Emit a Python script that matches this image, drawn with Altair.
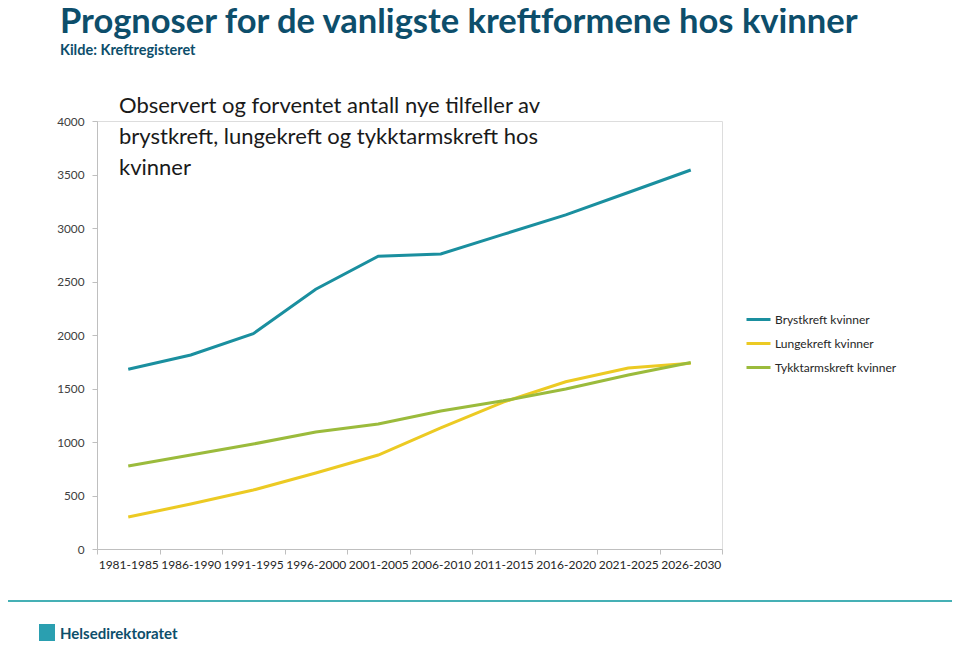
import altair as alt
import pandas as pd

periods = ["1981-1985", "1986-1990", "1991-1995", "1996-2000", "2001-2005",
           "2006-2010", "2011-2015", "2016-2020", "2021-2025", "2026-2030"]
series_names = ["Brystkreft kvinner", "Lungekreft kvinner", "Tykktarmskreft kvinner"]
bryst = [1680, 1813, 2012, 2428, 2736, 2757, 2940, 3122, 3332, 3542]
lunge = [299, 420, 551, 710, 878, 1131, 1372, 1563, 1692, 1736]
tykktarm = [776, 878, 981, 1093, 1168, 1290, 1385, 1495, 1626, 1743]
colors = ["#1a8f9f", "#ecca23", "#9bbb3c"]
y_ticks = [0, 500, 1000, 1500, 2000, 2500, 3000, 3500, 4000]

rows = []
for name, vals in zip(series_names, [bryst, lunge, tykktarm]):
    for p, v in zip(periods, vals):
        rows.append({"Periode": p, "Serie": name, "Antall": v})
df = pd.DataFrame(rows)

FONT = "Lato"
TITLE_COLOR = "#0d4e6b"

lines = alt.Chart(df).mark_line(strokeWidth=3).encode(
    x=alt.X("Periode:N", sort=periods, title=None,
            scale=alt.Scale(paddingInner=0, paddingOuter=0),
            axis=alt.Axis(labelAngle=0, tickBand="extent", tickSize=5,
                          labelPadding=5, labelFontSize=12, labelColor="#262626",
                          domainColor="#bfbfbf", tickColor="#bfbfbf", labelFont=FONT)),
    y=alt.Y("Antall:Q", title=None,
            scale=alt.Scale(domain=[0, 4000], nice=False),
            axis=alt.Axis(values=y_ticks, format="d", grid=False, tickSize=5, labelPadding=8,
                          labelFontSize=11.8, labelColor="#404040", labelFont=FONT,
                          domainColor="#bfbfbf", tickColor="#bfbfbf")),
    color=alt.Color("Serie:N", sort=series_names,
                    scale=alt.Scale(domain=series_names, range=colors),
                    legend=alt.Legend(title=None, orient="none", legendX=648, legendY=185,
                                      symbolType="stroke", symbolSize=576,
                                      symbolStrokeWidth=3, labelFontSize=12,
                                      labelFont=FONT, labelColor="#262626",
                                      labelOffset=3, rowPadding=4)),
)

inner_title = alt.Chart(pd.DataFrame({"t": [0]})).mark_text(
    align="left", baseline="alphabetic", fontSize=22, font=FONT,
    color="#1a1a1a", lineHeight=31,
).encode(
    x=alt.value(22), y=alt.value(-8),
    text=alt.value(["Observert og forventet antall nye tilfeller av",
                    "brystkreft, lungekreft og tykktarmskreft hos",
                    "kvinner"]),
)

footer_line = alt.Chart(pd.DataFrame({"t": [0]})).mark_rule(
    color="#45b0b5", strokeWidth=2
).encode(x=alt.value(-89), x2=alt.value(855), y=alt.value(480))

logo_box = alt.Chart(pd.DataFrame({"t": [0]})).mark_rect(
    color="#2a9fb0"
).encode(x=alt.value(-58), x2=alt.value(-42), y=alt.value(503), y2=alt.value(520))

footer_text = alt.Chart(pd.DataFrame({"t": [0]})).mark_text(
    align="left", baseline="alphabetic", fontSize=15, font=FONT,
    fontWeight="bold", color=TITLE_COLOR,
).encode(x=alt.value(-37), y=alt.value(518), text=alt.value("Helsedirektoratet"))

chart = alt.layer(lines, inner_title, footer_line, logo_box, footer_text).properties(
    width=625, height=428,
    autosize=alt.AutoSizeParams(type="none"),
    padding={"left": 89, "top": 113, "right": 230, "bottom": 92},
    title=alt.TitleParams(
        text="Prognoser for de vanligste kreftformene hos kvinner",
        subtitle="Kilde: Kreftregisteret",
        anchor="start", frame="group", dx=-37, offset=37,
        font=FONT, fontSize=34.5, fontWeight="bold", color=TITLE_COLOR,
        subtitleFont=FONT, subtitleFontSize=14.5, subtitleFontWeight="bold",
        subtitleColor=TITLE_COLOR, subtitlePadding=3,
    ),
).configure_view(strokeWidth=0).configure(font=FONT)

chart.save("out.html", embed_options={"renderer": "svg", "actions": False})
